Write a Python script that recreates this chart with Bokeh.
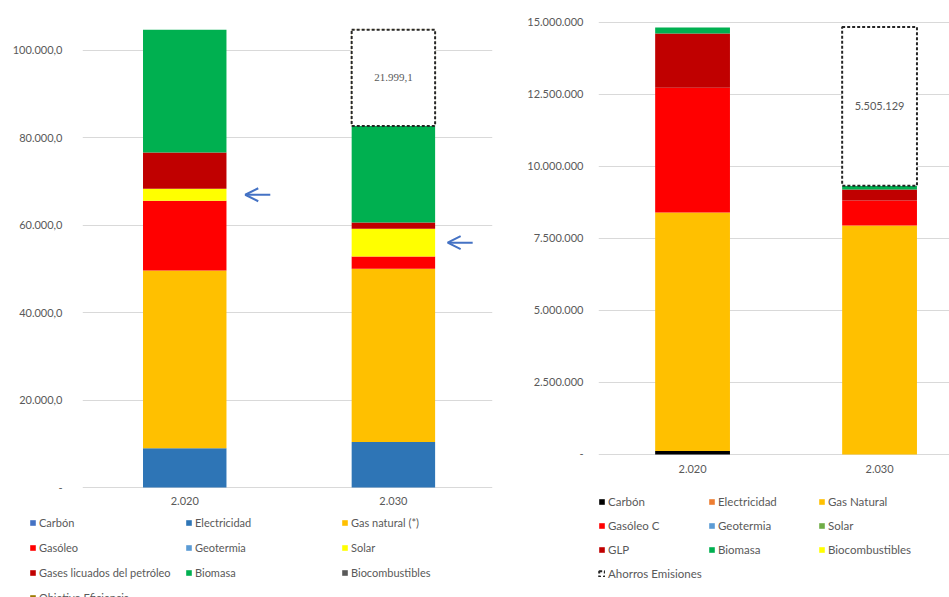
import numpy as np
from bokeh.plotting import figure
from bokeh.layouts import row
from bokeh.models import (Range1d, FixedTicker, Legend, LegendItem, Arrow,
                          OpenHead, ColumnDataSource)
from bokeh.core.properties import value
from bokeh.embed import file_html
from bokeh.resources import INLINE

# ---------------- data ----------------
years = ["2.020", "2.030"]

# Left chart: energy consumption by source
left_names = ["Carbón", "Electricidad", "Gas natural (*)", "Gasóleo", "Geotermia",
              "Solar", "Gases licuados del petróleo", "Biomasa", "Biocombustibles"]
l_carbon = [0, 0]
l_elec = [9000, 10400]
l_gas = [40600, 39600]
l_gasoleo = [16000, 2800]
l_geoterm = [0, 0]
l_solar = [2700, 6400]
l_glp = [8300, 1400]
l_biomasa = [28100, 22100]
l_biocomb = [0, 0]
l_objetivo = [0, 21999.1]
left_objetivo_name = "Objetivo Eficiencia"
left_ticks = [0, 20000, 40000, 60000, 80000, 100000]
left_tick_labels = ["-", "20.000,0", "40.000,0", "60.000,0", "80.000,0", "100.000,0"]

# Right chart: emissions by source
right_names = ["Carbón", "Electricidad", "Gas Natural", "Gasóleo C", "Geotermia",
               "Solar", "GLP", "Biomasa", "Biocombustibles"]
r_carbon = [120000, 0]
r_elec = [0, 0]
r_gas = [8280000, 7950000]
r_gasoleo = [4330000, 870000]
r_geoterm = [0, 0]
r_solar = [0, 0]
r_glp = [1880000, 380000]
r_biomasa = [210000, 130000]
r_biocomb = [0, 0]
r_ahorros = [0, 5505129]
right_ahorros_name = "Ahorros Emisiones"
right_ticks = [0, 2500000, 5000000, 7500000, 10000000, 12500000, 15000000]
right_tick_labels = ["-", "2.500.000", "5.000.000", "7.500.000", "10.000.000",
                     "12.500.000", "15.000.000"]

# ---------------- styles ----------------
left_colors = ["#4472C4", "#2E75B6", "#FFC000", "#FF0000", "#5B9BD5",
               "#FFFF00", "#C00000", "#00B050", "#595959"]
left_objetivo_color = "#9C7A00"
right_colors = ["#000000", "#ED7D31", "#FFC000", "#FF0000", "#5B9BD5",
                "#70AD47", "#C00000", "#00B050", "#FFFF00"]
GRAY = "#595959"
FONT = "Lato"
ARROW = "#4472C4"


def es_fmt(v, dec):
    s = f"{v:,.{dec}f}"
    return s.replace(",", "X").replace(".", ",").replace("X", ".")


def base_fig(fw, fh, xr, yr, mbl, mbr, ticks, labels, ystand, xstand):
    p = figure(frame_width=fw, frame_height=fh, x_range=xr, y_range=yr,
               output_backend="svg", toolbar_location=None,
               min_border_left=mbl, min_border_right=mbr,
               min_border_top=6, min_border_bottom=0)
    p.outline_line_color = None
    p.xgrid.grid_line_color = None
    p.ygrid.grid_line_color = "#D9D9D9"
    p.ygrid.ticker = FixedTicker(ticks=ticks)
    p.yaxis.ticker = FixedTicker(ticks=ticks)
    p.yaxis.major_label_overrides = {t: l for t, l in zip(ticks, labels)}
    p.xaxis.ticker = FixedTicker(ticks=list(range(len(years))))
    p.xaxis.major_label_overrides = {i: y for i, y in enumerate(years)}
    p.xaxis.fixed_location = 0
    for ax in (p.xaxis[0], p.yaxis[0]):
        ax.axis_line_color = None
        ax.major_tick_line_color = None
        ax.minor_tick_line_color = None
        ax.major_tick_out = 0
        ax.major_tick_in = 0
        ax.minor_tick_out = 0
        ax.minor_tick_in = 0
        ax.major_label_text_color = GRAY
        ax.major_label_text_font = FONT
        ax.major_label_text_font_size = "11px"
    p.yaxis.major_label_standoff = ystand
    p.xaxis.major_label_standoff = xstand
    return p


def stack(p, series, colors, width):
    xs = np.arange(len(years))
    bottom = np.zeros(len(years))
    rends, bottoms = [], []
    for vals, col in zip(series, colors):
        vals = np.array(vals, dtype=float)
        src = ColumnDataSource(dict(x=xs, bottom=bottom, top=bottom + vals))
        r = p.vbar(x="x", bottom="bottom", top="top", width=width, source=src,
                   fill_color=col, line_color=None)
        rends.append(r)
        bottoms.append(bottom.copy())
        bottom = bottom + vals
    return rends, bottoms, bottom


def top_segment(p, vals, bottom, width, **style):
    idx = [i for i, v in enumerate(vals) if v > 0]
    src = ColumnDataSource(dict(x=[i for i in idx],
                                bottom=[bottom[i] for i in idx],
                                top=[bottom[i] + vals[i] for i in idx],
                                ymid=[bottom[i] + vals[i] / 2 for i in idx]))
    r = p.vbar(x="x", bottom="bottom", top="top", width=width, source=src, **style)
    return r, src, idx


def make_legend(items, loc, label_width, spacing, margin, fsize):
    return Legend(items=items, ncols=3, orientation="horizontal",
                  location=loc, glyph_width=7, glyph_height=7,
                  label_standoff=3, label_width=label_width, label_height=20,
                  spacing=spacing, padding=0, margin=margin,
                  label_text_font=FONT, label_text_font_size=fsize,
                  label_text_color=GRAY, border_line_color=None,
                  background_fill_alpha=0)


DASH = dict(fill_color="white", line_color="#262626", line_width=2, line_dash="3 2")

# ---------------- left figure ----------------
# frame extends a little below zero so the category labels sit inside it
pl = base_fig(410, 506, Range1d(-0.49, 1.475), Range1d(-5717, 110000),
              82, 8, left_ticks, left_tick_labels, 20, 9)
left_series = [l_carbon, l_elec, l_gas, l_gasoleo, l_geoterm, l_solar,
               l_glp, l_biomasa, l_biocomb]
lw = 0.40
l_rends, l_bottoms, l_total = stack(pl, left_series, left_colors, lw)

# objetivo: coloured swatch (legend), covered by the dashed box
r_obj, _, _ = top_segment(pl, l_objetivo, l_total, lw,
                          fill_color=left_objetivo_color, line_color=None)
_, obj_src, obj_idx = top_segment(pl, l_objetivo, l_total, lw, **DASH)
pl.text(x=obj_src.data["x"], y=obj_src.data["ymid"],
        text=[es_fmt(l_objetivo[i], 1) for i in obj_idx],
        text_align="center", text_baseline="middle", text_color=GRAY,
        text_font=value("Liberation Serif"), text_font_size="11px")

# arrows pointing at the solar segments
solar_i = left_names.index("Solar")
tip_gap = [0.09, 0.06]
for i in range(len(years)):
    ymid = l_bottoms[solar_i][i] + l_solar[i] / 2
    x_tip = i + lw / 2 + tip_gap[i]
    pl.add_layout(Arrow(end=OpenHead(size=13, line_color=ARROW, line_width=2),
                        x_start=x_tip + 0.12, y_start=ymid, x_end=x_tip, y_end=ymid,
                        line_color=ARROW, line_width=2))

l_items = [LegendItem(label=n, renderers=[r]) for n, r in zip(left_names, l_rends)]
l_items.append(LegendItem(label=left_objetivo_name, renderers=[r_obj]))
l_legend = make_legend(l_items, "top_right", 141, 5, 0, "11px")
pl.below = [l_legend, pl.xaxis[0]]

# ---------------- right figure ----------------
# frame runs to the page bottom so the legend can sit inside it
pr = base_fig(351, 600, Range1d(-0.503, 1.374), Range1d(-5277800, 15550000),
              98, 0, right_ticks, right_tick_labels, 15, 11)
right_series = [r_carbon, r_elec, r_gas, r_gasoleo, r_geoterm, r_solar,
                r_glp, r_biomasa, r_biocomb]
rw = 0.40
r_rends, r_bottoms, r_total = stack(pr, right_series, right_colors, rw)
r_box, box_src, box_idx = top_segment(pr, r_ahorros, r_total, rw, **DASH)
pr.text(x=box_src.data["x"], y=box_src.data["ymid"],
        text=[es_fmt(r_ahorros[i], 0) for i in box_idx],
        text_align="center", text_baseline="middle", text_color=GRAY,
        text_font=value(FONT), text_font_size="11px")

r_items = [LegendItem(label=n, renderers=[r]) for n, r in zip(right_names, r_rends)]
r_items.append(LegendItem(label=right_ahorros_name, renderers=[r_box]))
r_legend = make_legend(r_items, (0, 23), 96, 4, 0, "11.5px")
pr.add_layout(r_legend)

layout = row(pl, pr)
open("out.html", "w").write(file_html(layout, INLINE))
